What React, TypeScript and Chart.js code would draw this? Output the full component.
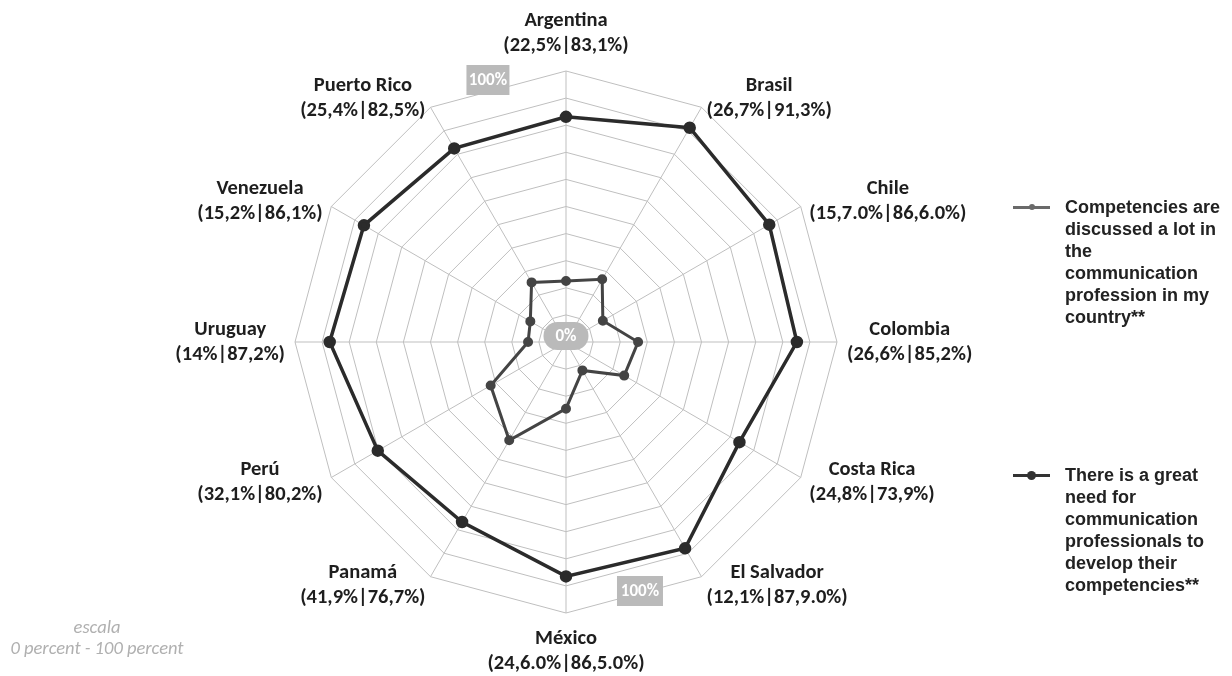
import { useEffect, useRef } from 'react';
import { Chart, registerables } from 'chart.js';

Chart.register(...registerables);

const countries = ['Argentina', 'Brasil', 'Chile', 'Colombia', 'Costa Rica', 'El Salvador', 'México', 'Panamá', 'Perú', 'Uruguay', 'Venezuela', 'Puerto Rico'];
const valueLabels = ['(22,5%|83,1%)', '(26,7%|91,3%)', '(15,7.0%|86,6.0%)', '(26,6%|85,2%)', '(24,8%|73,9%)', '(12,1%|87,9.0%)', '(24,6.0%|86,5.0%)', '(41,9%|76,7%)', '(32,1%|80,2%)', '(14%|87,2%)', '(15,2%|86,1%)', '(25,4%|82,5%)'];
const discussed = [22.5, 26.7, 15.7, 26.6, 24.8, 12.1, 24.6, 41.9, 32.1, 14, 15.2, 25.4];
const need = [83.1, 91.3, 86.6, 85.2, 73.9, 87.9, 86.5, 76.7, 80.2, 87.2, 86.1, 82.5];
const seriesNames = [
  'Competencies are discussed a lot in the communication profession in my country**',
  'There is a great need for communication professionals to develop their competencies**',
];
const legendLines1 = ['Competencies are', 'discussed a lot in', 'the', 'communication', 'profession in my', 'country**'];
const legendLines2 = ['There is a great', 'need for', 'communication', 'professionals to', 'develop their', 'competencies**'];
const centerTickLabel = '0%';
const maxTickLabel = '100%';
const noteLines = ['escala', '0 percent - 100 percent'];

const LABEL_FONT = 'bold 20.5px Carlito, Lato, sans-serif';
const TICK_FONT = 'bold 17px Carlito, Lato, sans-serif';

function box(ctx: CanvasRenderingContext2D, cx: number, cy: number, w: number, h: number, rad: number, text: string) {
  ctx.fillStyle = '#bababa';
  ctx.beginPath();
  if ((ctx as any).roundRect) (ctx as any).roundRect(cx - w / 2, cy - h / 2, w, h, rad);
  else ctx.rect(cx - w / 2, cy - h / 2, w, h);
  ctx.fill();
  ctx.fillStyle = '#ffffff';
  ctx.font = TICK_FONT;
  ctx.textAlign = 'center';
  ctx.textBaseline = 'middle';
  ctx.fillText(text, cx, cy + 1);
}

const labelsPlugin = {
  id: 'customLabels',
  afterDraw(chart: any) {
    const s = chart.scales.r;
    const ctx: CanvasRenderingContext2D = chart.ctx;
    const r = s.drawingArea;
    ctx.save();
    ctx.font = LABEL_FONT;
    ctx.fillStyle = '#1e1e1e';
    ctx.textBaseline = 'middle';
    ctx.textAlign = 'center';
    countries.forEach((name, i) => {
      const a = s.getIndexAngle(i);
      const sin = Math.sin(a);
      const cos = Math.cos(a);
      const p = s.getPointPosition(i, r + 10);
      const lines = [name, valueLabels[i]];
      const w = Math.max(...lines.map((l) => ctx.measureText(l).width));
      let cx = p.x;
      if (sin > 0.01) cx = p.x + w / 2;
      else if (sin < -0.01) cx = p.x - w / 2;
      let cy = p.y;
      if (Math.abs(sin) <= 0.01) cy = p.y - cos * 28;
      ctx.fillText(lines[0], cx, cy - 12.5);
      ctx.fillText(lines[1], cx, cy + 12.5);
    });
    const xc = s.xCenter;
    const yc = s.yCenter;
    box(ctx, xc, yc - 6, 45, 28, 14, centerTickLabel);
    box(ctx, xc - 0.288 * r, yc - 0.967 * r, 43, 30, 0, maxTickLabel);
    box(ctx, xc + 0.273 * r, yc + 0.919 * r, 46, 30, 0, maxTickLabel);
    ctx.restore();
  },
};

function LegendItem({ lines, color, lw, pr, top }: { lines: string[]; color: string; lw: number; pr: number; top: number }) {
  return (
    <div style={{ position: 'absolute', left: 1013, top, width: 219 }}>
      <div style={{ position: 'absolute', left: 0, top: 11 - lw / 2, width: 37, height: lw, background: color }} />
      <div
        style={{
          position: 'absolute',
          left: 18.5 - pr,
          top: 11 - pr,
          width: pr * 2,
          height: pr * 2,
          borderRadius: '50%',
          background: color,
        }}
      />
      <div
        style={{
          position: 'absolute',
          left: 52,
          top: 0,
          font: 'bold 18px "Liberation Sans", Arial, sans-serif',
          lineHeight: '22px',
          color: '#222',
          whiteSpace: 'nowrap',
        }}
      >
        {lines.map((l, i) => (
          <div key={i}>{l}</div>
        ))}
      </div>
    </div>
  );
}

export default function App() {
  const ref = useRef<HTMLCanvasElement | null>(null);

  useEffect(() => {
    document.body.style.margin = '0';
    const canvas = ref.current;
    if (!canvas) return;
    const chart = new Chart(canvas, {
      type: 'radar',
      data: {
        labels: countries,
        datasets: [
          {
            label: seriesNames[0],
            data: discussed,
            borderColor: '#444444',
            backgroundColor: '#444444',
            pointBackgroundColor: '#444444',
            pointBorderColor: '#444444',
            borderWidth: 3,
            pointRadius: 3.5,
            fill: false,
          },
          {
            label: seriesNames[1],
            data: need,
            borderColor: '#2b2b2b',
            backgroundColor: '#2b2b2b',
            pointBackgroundColor: '#2b2b2b',
            pointBorderColor: '#2b2b2b',
            borderWidth: 3.5,
            pointRadius: 4.5,
            fill: false,
          },
        ],
      },
      options: {
        animation: false,
        responsive: true,
        maintainAspectRatio: false,
        layout: { padding: { left: 295, right: 395, top: 71, bottom: 63 } },
        plugins: {
          legend: { display: false },
          tooltip: { enabled: false },
        },
        elements: { line: { tension: 0 } },
        scales: {
          r: {
            min: 0,
            max: 100,
            ticks: { display: false, stepSize: 10 },
            pointLabels: { display: false },
            grid: { color: '#bfbfbf', lineWidth: 1 },
            angleLines: { color: '#bfbfbf', lineWidth: 1 },
          },
        },
      },
      plugins: [labelsPlugin],
    });
    return () => chart.destroy();
  }, []);

  return (
    <div style={{ position: 'relative', width: 1232, height: 676, background: '#fff', overflow: 'hidden' }}>
      <canvas ref={ref} style={{ position: 'absolute', left: 0, top: 0, width: 1232, height: 676 }} />
      <LegendItem lines={legendLines1} color="#6a6a6a" lw={3} pr={3} top={196} />
      <LegendItem lines={legendLines2} color="#333333" lw={3} pr={4.5} top={464} />
      <div
        style={{
          position: 'absolute',
          left: 0,
          top: 616,
          width: 194,
          textAlign: 'center',
          font: 'italic 18.5px Carlito, Lato, sans-serif',
          lineHeight: '21px',
          color: '#b0b0b0',
        }}
      >
        {noteLines.map((l, i) => (
          <div key={i}>{l}</div>
        ))}
      </div>
    </div>
  );
}
